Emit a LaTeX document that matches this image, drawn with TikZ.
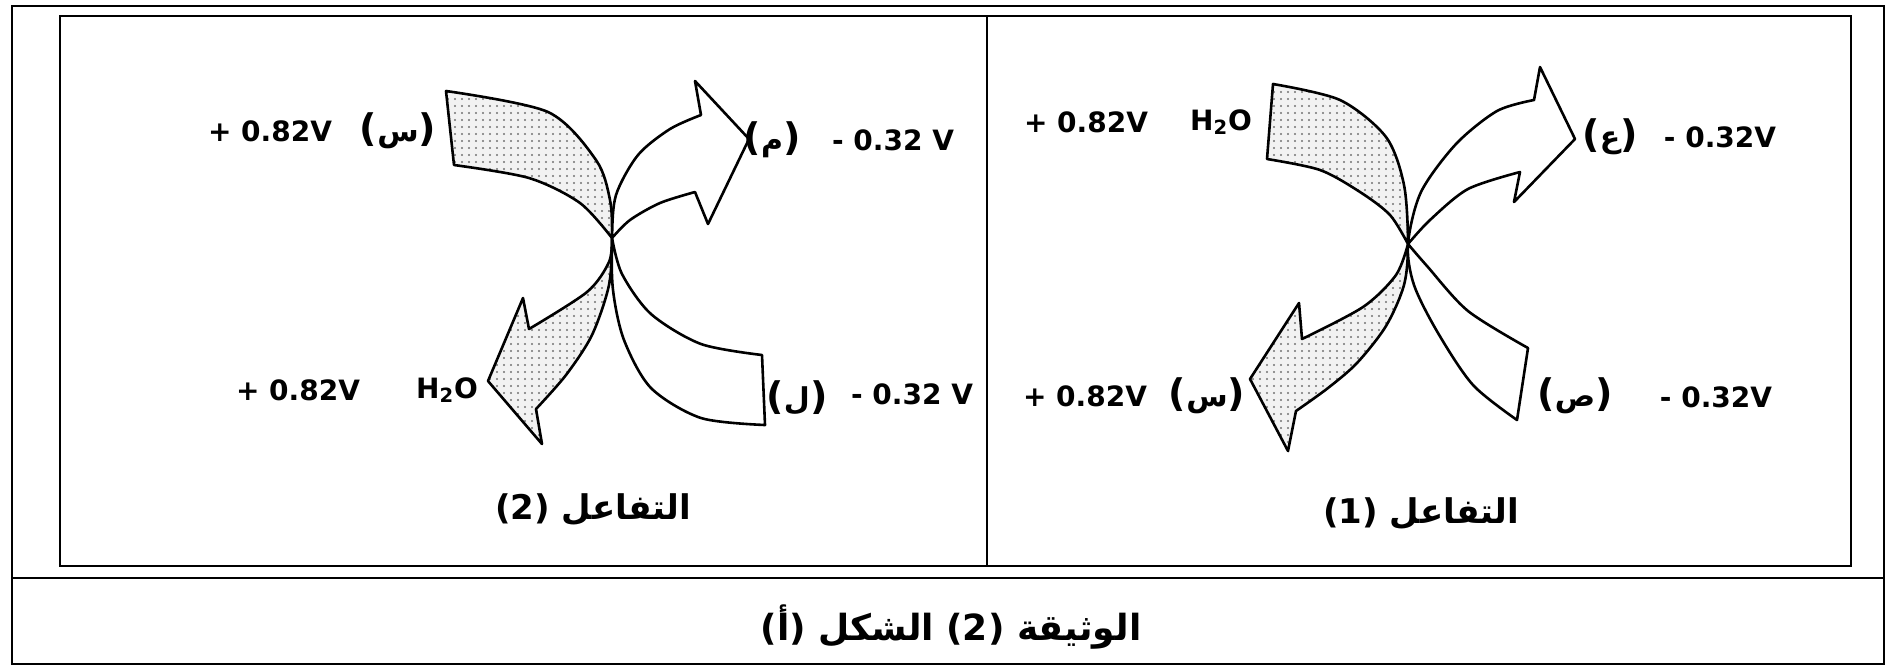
\documentclass[tikz,border=0pt]{standalone}
\usepackage{fontspec}
\setmainfont{DejaVu Sans}
\newfontfamily\arabicfont[Script=Arabic]{DejaVu Sans}
\TeXXeTstate=1
\usetikzlibrary{patterns.meta}

\newcommand\arletter[1]{({\arabicfont\fontsize{15}{16}\selectfont\beginR #1\endR})}

\tikzset{
 volt/.style={font=\fontsize{14}{16}\selectfont\bfseries, inner sep=0pt},
 letter/.style={font=\fontsize{19}{20}\selectfont\bfseries, inner sep=0pt},
 react/.style={font=\fontsize{17}{20}\selectfont\bfseries, inner sep=0pt},
 caption/.style={font=\fontsize{18}{22}\selectfont\bfseries, inner sep=0pt},
 shadedarr/.style={line width=1.3pt, line join=round, preaction={fill=gray!10},
   pattern={Dots[distance=3.5pt,radius=0.6pt]}, pattern color=black!55},
 whitearr/.style={line width=1.3pt, line join=round, fill=white},
 frame/.style={line width=1.4pt},
}

\begin{document}
\begin{tikzpicture}[x=0.5pt,y=-0.5pt]
 \useasboundingbox (0,0) rectangle (1890,666);
 \draw[frame] (12,6) rectangle (1884,664);
 \draw[frame] (60,16) rectangle (1851,566);
 \draw[frame] (987,16) -- (987,566);
 \draw[frame] (12,578) -- (1884,578);

 % reaction 2
 \draw[shadedarr] (446,91) -- plot[smooth] coordinates {(446,91) (548,112) (596,160) (610,200) (612,238) (609,285) (592,335) (566,375) (536,409)}
  -- (542,444) -- (488,381) -- (523,298) -- (529,329)
  -- plot[smooth] coordinates {(529,329) (587,292) (609,262) (612,238)}
  -- plot[smooth] coordinates {(612,238) (580,203) (529,178) (454,165)} -- cycle;
 \draw[whitearr] (765,425) -- plot[smooth] coordinates {(765,425) (701,418) (651,388) (624,340) (613,290) (612,238) (616,195) (638,155) (670,129) (701,115)}
  -- (695,81) -- (749,139) -- (708,224) -- (695,192)
  -- plot[smooth] coordinates {(695,192) (660,203) (630,220) (612,238)}
  -- plot[smooth] coordinates {(612,238) (622,274) (651,314) (701,344) (762,355)} -- cycle;

 % reaction 1
 \draw[shadedarr] (1273,84) -- plot[smooth] coordinates {(1273,84) (1340,100) (1386,137) (1404,185) (1408,244) (1404,285) (1386,326) (1357,363) (1328,388) (1296,411)}
  -- (1288,451) -- (1250,379) -- (1299,303) -- (1302,339)
  -- plot[smooth] coordinates {(1302,339) (1363,307) (1396,275) (1408,244)}
  -- plot[smooth] coordinates {(1408,244) (1390,215) (1360,192) (1320,170) (1267,159)} -- cycle;
 \draw[whitearr] (1517,420) -- plot[smooth] coordinates {(1517,420) (1473,385) (1438,333) (1414,285) (1408,244) (1421,192) (1456,144) (1497,111) (1534,100)}
  -- (1540,67) -- (1575,139) -- (1514,202) -- (1520,172)
  -- plot[smooth] coordinates {(1520,172) (1468,189) (1430,220) (1408,244)}
  -- plot[smooth] coordinates {(1408,244) (1427,266) (1468,311) (1528,348)} -- cycle;

 % labels, reaction 2
 \node[volt] (lplus1) at (270,131) {+ 0.82V};
 \node[letter] (lsin) at (398,131) {\arletter{س}};
 \node[letter] (lmim) at (772,140) {\arletter{م}};
 \node[volt] (lminus1) at (893,140) {- 0.32 V};
 \node[volt] (lplus2) at (298,390) {+ 0.82V};
 \node[volt] (lwater) at (447,390) {H\textsubscript{2}O};
 \node[letter] (llam) at (797,398) {\arletter{ل}};
 \node[volt] (lminus2) at (912,394) {- 0.32 V};
 \node[react] (ltitle) at (593,510) {(2) {\arabicfont\beginR التفاعل\endR}};

 % labels, reaction 1
 \node[volt] (rplus1) at (1086,122) {+ 0.82V};
 \node[volt] (rwater) at (1221,122) {H\textsubscript{2}O};
 \node[letter] (rain) at (1610,137) {\arletter{ع}};
 \node[volt] (rminus1) at (1720,137) {- 0.32V};
 \node[volt] (rplus2) at (1085,396) {+ 0.82V};
 \node[letter] (rsin) at (1207,396) {\arletter{س}};
 \node[letter] (rsad) at (1575,396) {\arletter{ص}};
 \node[volt] (rminus2) at (1716,397) {- 0.32V};
 \node[react] (rtitle) at (1421,514) {(1) {\arabicfont\beginR التفاعل\endR}};

 \node[caption] (doc) at (951,627) {({\arabicfont\beginR أ\endR}) {\arabicfont\beginR الشكل\endR} (2) {\arabicfont\beginR الوثيقة\endR}};
\end{tikzpicture}
\end{document}
